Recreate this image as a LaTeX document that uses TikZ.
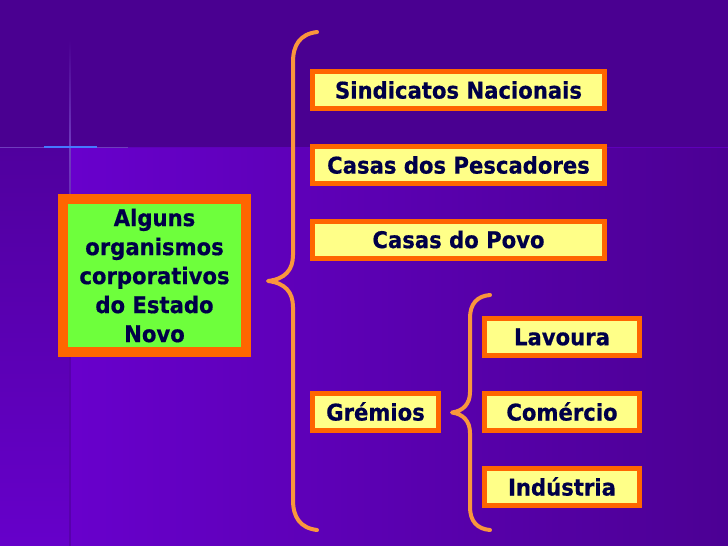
\documentclass[tikz,border=0pt]{standalone}
\usepackage{fontspec}
\setmainfont{DejaVu Sans}
\newfontfamily\boxfont{DejaVu Sans}[FakeStretch=0.92,FakeBold=0.6]
\definecolor{bgtop}{RGB}{74,0,145}
\definecolor{bgA}{RGB}{104,0,204}
\definecolor{bgB}{RGB}{76,0,148}
\definecolor{stripTop}{RGB}{80,0,158}
\definecolor{stripBot}{RGB}{102,0,202}
\definecolor{palelineC}{RGB}{112,60,190}
\definecolor{bluelineC}{RGB}{70,120,255}
\definecolor{darklineC}{RGB}{88,0,172}
\definecolor{boxorange}{RGB}{255,102,0}
\definecolor{braceorange}{RGB}{250,150,60}
\definecolor{leafgreen}{RGB}{110,255,60}
\definecolor{paleyellow}{RGB}{255,255,136}
\definecolor{navytext}{RGB}{0,0,72}
\tikzset{
  bigbox/.style={draw=boxorange, line width=10pt, fill=leafgreen, text=navytext,
    minimum width=183pt, minimum height=153pt, inner sep=0pt, align=center,
    font=\boxfont\bfseries\fontsize{23}{29}\selectfont},
  itembox/.style={draw=boxorange, line width=5pt, fill=paleyellow, text=navytext,
    minimum height=37pt, inner sep=0pt, align=center,
    font=\boxfont\bfseries\fontsize{23}{27}\selectfont},
  widebox/.style={itembox, minimum width=292pt},
  gbox/.style={itembox, minimum width=126pt},
  subbox/.style={itembox, minimum width=155pt},
  bracestyle/.style={draw=braceorange, line width=4pt, line cap=round, line join=round}
}
\begin{document}
\begin{tikzpicture}[x=1pt,y=-1pt]
\useasboundingbox (0,0) rectangle (728,546);
% background
\fill[bgtop] (0,0) rectangle (728,147);
\shade[left color=bgA, right color=bgB] (70,147) rectangle (728,546);
\shade[top color=stripTop, bottom color=stripBot] (0,147) rectangle (70,546);
\draw[line width=1pt, color=bgA!70!bgtop] (128,147.5) -- (728,147.5);
\shade[top color=bgtop, bottom color=palelineC] (69.4,40) rectangle (70.6,147);
\shade[top color=palelineC, bottom color=darklineC] (69.4,147) rectangle (70.6,330);
\fill[darklineC] (69.4,330) rectangle (70.6,546);
\draw[line width=1pt, color=palelineC] (0,147) -- (128,147);
\draw[line width=1.3pt, color=bluelineC] (44,147) -- (97,147);

% boxes
\node[bigbox] (org) at (154.5,275.5) {Alguns\\organismos\\corporativos\\do Estado\\Novo};
\node[widebox] (sind) at (458.5,90) {Sindicatos Nacionais};
\node[widebox] (pesc) at (458.5,165) {Casas dos Pescadores};
\node[widebox] (povo) at (458.5,239.5) {Casas do Povo};
\node[gbox] (grem) at (375.5,411.5) {Grémios};
\node[subbox] (lav) at (562,337) {Lavoura};
\node[subbox] (com) at (562,411.5) {Comércio};
\node[subbox] (ind) at (562,486.5) {Indústria};

% big brace
\coordinate (bbTop) at (317,32);
\coordinate (bbTip) at (268,281);
\coordinate (bbBot) at (317,530);
\draw[bracestyle] (bbTop) .. controls (300,34) and (293,45) .. (293,62)
  -- (293,255) .. controls (293,270) and (285,279) .. (bbTip)
  .. controls (285,283) and (293,292) .. (293,307)
  -- (293,500) .. controls (293,517) and (300,528) .. (bbBot);
% small brace
\coordinate (sbTop) at (490,295);
\coordinate (sbTip) at (452,412.5);
\coordinate (sbBot) at (490,530);
\draw[bracestyle] (sbTop) .. controls (477,296) and (470,304) .. (470,318)
  -- (470,392) .. controls (470,404) and (463,411) .. (sbTip)
  .. controls (463,414) and (470,421) .. (470,433)
  -- (470,507) .. controls (470,521) and (477,529) .. (sbBot);
\end{tikzpicture}
\end{document}
